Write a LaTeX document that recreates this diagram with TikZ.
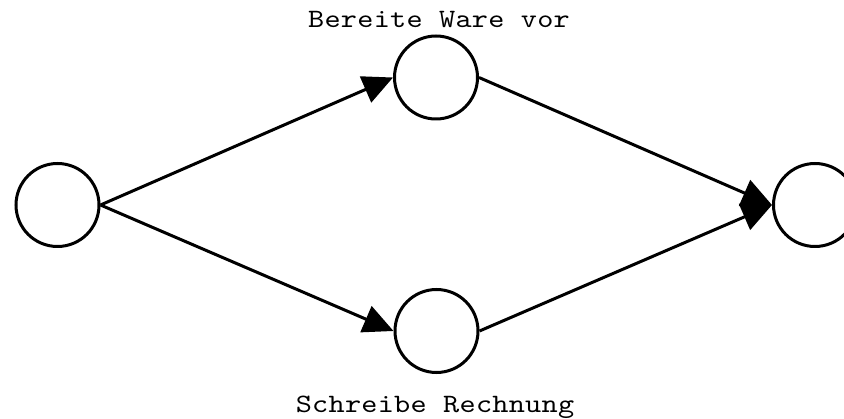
\documentclass[tikz,border=0pt]{standalone}
\usepackage{fontspec}
\newfontfamily\taskfont[FakeStretch=1.16,LetterSpace=1]{lmmono10-regular.otf}
\usetikzlibrary{arrows.meta}
\begin{document}
\begin{tikzpicture}[x=1pt,y=-1pt,
  event/.style={draw,circle,line width=3pt,minimum size=83pt,inner sep=0pt},
  act/.style={line width=3pt,-{Triangle[length=30pt,width=28pt]}},
  task/.style={font=\taskfont\fontsize{26.5}{30}\selectfont,inner sep=0pt,anchor=base}]
  \useasboundingbox (0,0) rectangle (844,419); %Rahmen
  \node[event] (start) at (57.5,205) {}; %Start
  \node[event] (ware) at (436,77.5) {}; %oben
  \node[event] (rech) at (436.5,331) {}; %unten
  \node[event] (ende) at (815,205) {}; %Ende
  \node[task] (warelbl) at (439,28) {Bereite Ware vor}; %Text oben
  \node[task] (rechlbl) at (435,413) {Schreibe Rechnung}; %Text unten
  \draw[act] (start.east) -- (ware.west);
  \draw[act] (start.east) -- (rech.west);
  \draw[act] (ware.east) -- (ende.west);
  \draw[act] (rech.east) -- (ende.west);
\end{tikzpicture}
\end{document}
